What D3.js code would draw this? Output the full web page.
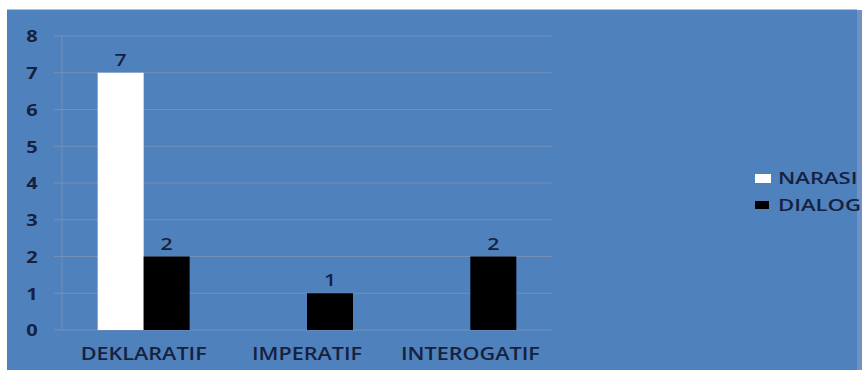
<!DOCTYPE html>
<html>
<head>
<meta charset="utf-8">
<script src="https://cdn.jsdelivr.net/npm/d3@7/dist/d3.min.js"></script>
<style>
  html, body { margin: 0; padding: 0; background: #ffffff; }
  svg { display: block; }
  text { font-family: "Open Sans", "DejaVu Sans", sans-serif; fill: #16213f; font-weight: 600; }
</style>
</head>
<body>
<svg id="chart" width="862" height="370"></svg>
<script>
// Sentence types and counts per text part
const categories = ["DEKLARATIF", "IMPERATIF", "INTEROGATIF"];
const seriesNames = ["NARASI", "DIALOG"];
const narasi = [7, null, null];
const dialog = [2, 1, 2];
const yTicks = [0, 1, 2, 3, 4, 5, 6, 7, 8];

const seriesColors = { NARASI: "#ffffff", DIALOG: "#000000" };
const seriesValues = { NARASI: narasi, DIALOG: dialog };

// Wide lettering: glyphs are stretched horizontally
const stretch = 1.25;

const svg = d3.select("#chart");

// Panel background
svg.append("rect").attr("x", 0).attr("y", 0).attr("width", 862).attr("height", 370).attr("fill", "#ffffff");
svg.append("rect").attr("x", 7).attr("y", 10).attr("width", 850).attr("height", 360).attr("fill", "#4f81bd");
svg.append("line").attr("x1", 7).attr("x2", 857).attr("y1", 9.5).attr("y2", 9.5).attr("stroke", "#b8bec6").attr("stroke-width", 1);
svg.append("rect").attr("x", 857).attr("y", 10).attr("width", 5).attr("height", 360).attr("fill", "#6f92c6");

const plot = { left: 62, right: 552, top: 36, bottom: 330 };

const x0 = d3.scaleBand().domain(categories).range([plot.left, plot.right]).paddingInner(0).paddingOuter(0);
const groupWidth = 92;
const x1 = d3.scaleBand().domain(seriesNames).range([-groupWidth / 2, groupWidth / 2]);
const y = d3.scaleLinear().domain([0, 8]).range([plot.bottom, plot.top]);

// Horizontal gridlines
svg.append("g").selectAll("line").data(yTicks).join("line")
  .attr("x1", plot.left - 8).attr("x2", plot.right)
  .attr("y1", d => y(d)).attr("y2", d => y(d))
  .attr("stroke", "#7590b8").attr("stroke-width", 1);

// Vertical axis line
svg.append("line").attr("x1", plot.left).attr("x2", plot.left)
  .attr("y1", plot.top).attr("y2", plot.bottom)
  .attr("stroke", "#7590b8").attr("stroke-width", 1);

// Y axis labels
const yAxis = d3.axisLeft(y).tickValues(yTicks).tickSize(0).tickPadding(0).tickFormat(d3.format("d"));
const yg = svg.append("g").attr("transform", `translate(${plot.left - 30},0)`).call(yAxis);
yg.select(".domain").remove();
yg.selectAll("text").attr("text-anchor", "middle").attr("x", 0).attr("dy", "0.36em")
  .attr("transform", `scale(${stretch},1)`)
  .style("font-size", "16px").style("font-weight", "700").style("fill", "#16213f");

// X axis labels
const xAxis = d3.axisBottom(x0).tickSize(0).tickPadding(0);
const xg = svg.append("g").attr("transform", `translate(0,${plot.bottom + 30})`).call(xAxis);
xg.select(".domain").remove();
xg.selectAll("text").attr("y", 0).attr("dy", 0)
  .attr("transform", `scale(1.2,1)`)
  .style("font-size", "18px").style("fill", "#16213f");

// Bars
const bars = [];
categories.forEach((c, i) => {
  seriesNames.forEach(s => {
    const v = seriesValues[s][i];
    if (v != null) bars.push({ category: c, series: s, value: v });
  });
});

const barX = d => x0(d.category) + x0.bandwidth() / 2 + x1(d.series);

svg.append("g").selectAll("rect").data(bars).join("rect")
  .attr("x", barX)
  .attr("width", x1.bandwidth())
  .attr("y", d => y(d.value))
  .attr("height", d => y(0) - y(d.value))
  .attr("fill", d => seriesColors[d.series]);

// Value labels
svg.append("g").selectAll("text").data(bars).join("text")
  .attr("transform", d => `translate(${barX(d) + x1.bandwidth() / 2},${y(d.value) - 7}) scale(${stretch},1)`)
  .attr("text-anchor", "middle")
  .style("font-size", "17px")
  .text(d => d.value);

// Legend
const legendRows = [
  { name: "NARASI", sw: 16, sh: 9, top: 174, base: 184 },
  { name: "DIALOG", sw: 14, sh: 8, top: 201, base: 211 }
];
const legend = svg.append("g");
legendRows.forEach(r => {
  legend.append("rect").attr("x", 755).attr("y", r.top).attr("width", r.sw).attr("height", r.sh)
    .attr("fill", seriesColors[r.name]);
  legend.append("text").attr("transform", `translate(778,${r.base}) scale(1.3,1)`)
    .style("font-size", "17px").text(r.name);
});
</script>
</body>
</html>
